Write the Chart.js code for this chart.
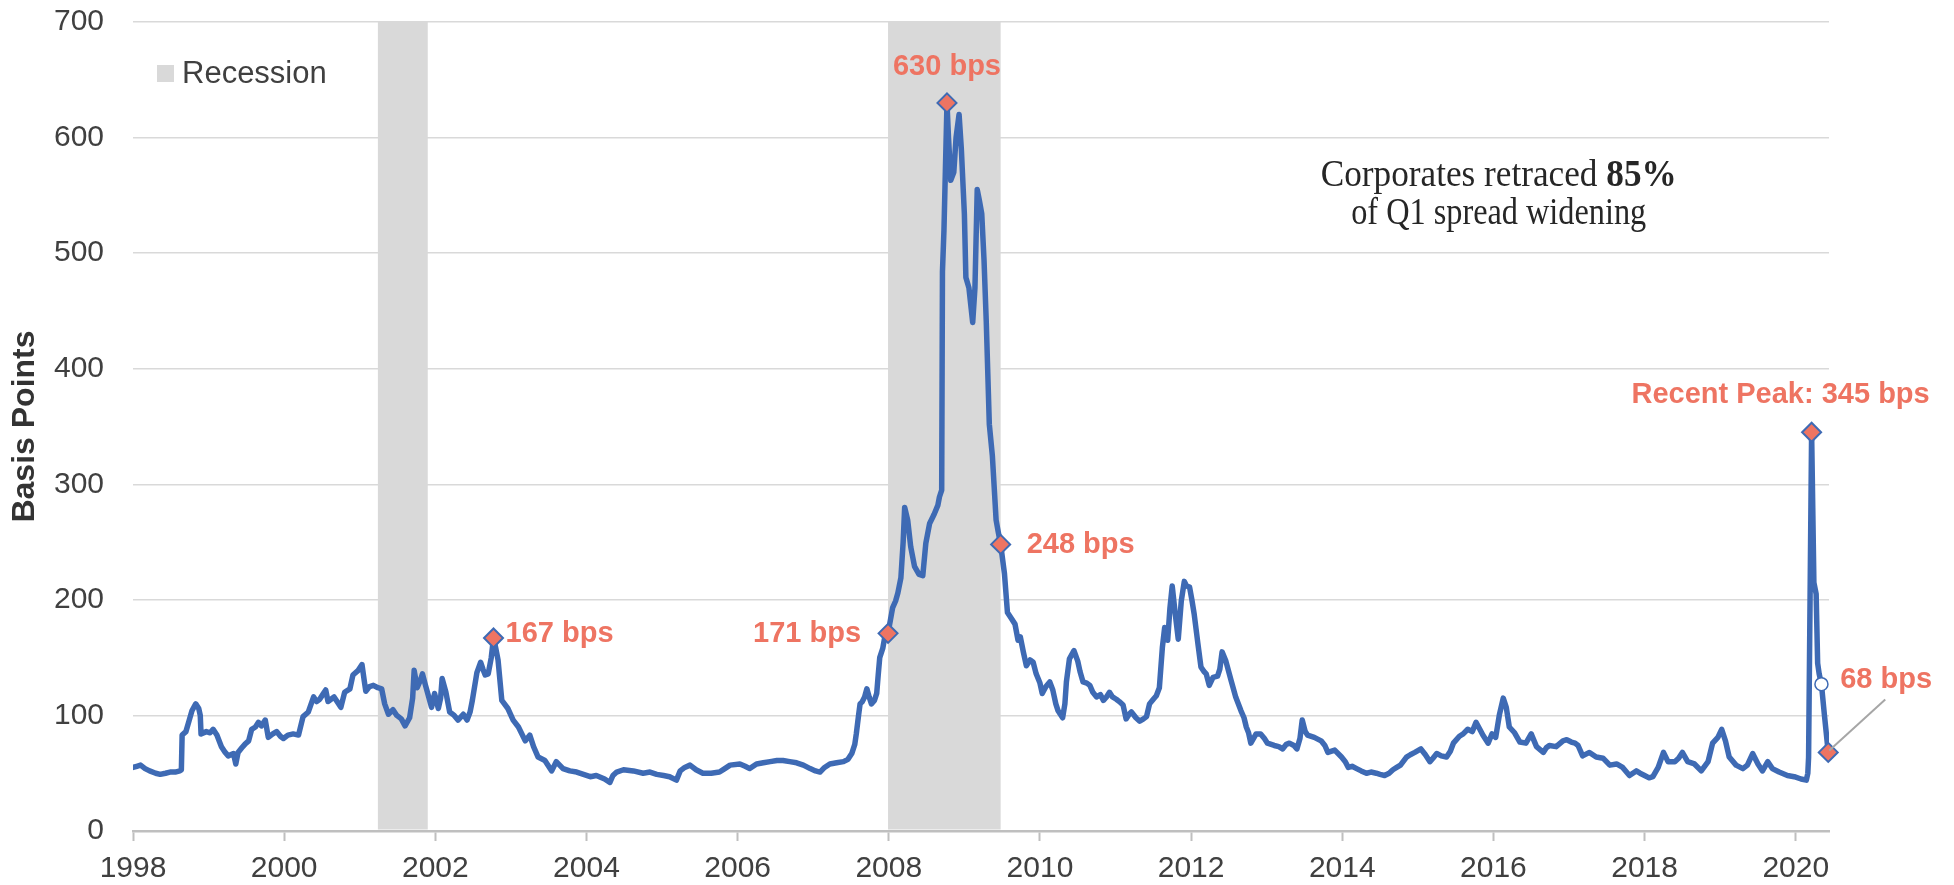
<!DOCTYPE html>
<html>
<head>
<meta charset="utf-8">
<title>Corporate spreads</title>
<script src="https://cdn.jsdelivr.net/npm/chart.js@4.4.1/dist/chart.umd.min.js"></script>
<style>
  html, body { margin: 0; padding: 0; background: #fff; }
  #chart { display: block; }
</style>
</head>
<body>
<canvas id="chart" width="1954" height="885"></canvas>
<script>
// spread readings (bps), dates as decimal years
const dates = [
  1998.00, 1998.05, 1998.10, 1998.16, 1998.22, 1998.30, 1998.36, 1998.43, 1998.49, 1998.56, 1998.62, 1998.64, 1998.65, 1998.70, 1998.74, 1998.78, 1998.83, 1998.87, 1998.89, 1998.90, 1998.97,
  1999.02, 1999.06, 1999.11, 1999.17, 1999.22, 1999.26, 1999.33, 1999.36, 1999.39, 1999.44, 1999.48, 1999.53, 1999.57, 1999.62, 1999.66, 1999.70, 1999.75, 1999.79, 1999.85, 1999.90, 1999.95, 1999.99,
  2000.05, 2000.12, 2000.19, 2000.25, 2000.32, 2000.39, 2000.43, 2000.47, 2000.51, 2000.55, 2000.58, 2000.62, 2000.66, 2000.70, 2000.75, 2000.80, 2000.87, 2000.91, 2000.98,
  2001.03, 2001.06, 2001.08, 2001.13, 2001.18, 2001.24, 2001.29, 2001.33, 2001.38, 2001.44, 2001.49, 2001.55, 2001.60, 2001.66, 2001.70, 2001.72, 2001.76, 2001.80, 2001.83, 2001.87, 2001.90, 2001.95, 2001.99,
  2002.04, 2002.07, 2002.09, 2002.14, 2002.19, 2002.25, 2002.30, 2002.37, 2002.42, 2002.46, 2002.49, 2002.55, 2002.60, 2002.63, 2002.66, 2002.70, 2002.74, 2002.77, 2002.80, 2002.83, 2002.88, 2002.96,
  2003.03, 2003.10, 2003.19, 2003.25, 2003.30, 2003.36, 2003.45, 2003.54, 2003.60, 2003.69, 2003.78, 2003.87, 2003.96,
  2004.05, 2004.13, 2004.24, 2004.31, 2004.35, 2004.40, 2004.49, 2004.62, 2004.75, 2004.84, 2004.93,
  2005.02, 2005.10, 2005.19, 2005.24, 2005.30, 2005.37, 2005.45, 2005.54, 2005.65, 2005.76, 2005.83, 2005.90,
  2006.03, 2006.10, 2006.16, 2006.25, 2006.34, 2006.43, 2006.52, 2006.60, 2006.69, 2006.78, 2006.87, 2006.96,
  2007.03, 2007.09, 2007.15, 2007.22, 2007.31, 2007.40, 2007.46, 2007.51, 2007.55, 2007.57, 2007.60, 2007.62, 2007.65, 2007.68, 2007.71, 2007.74, 2007.77, 2007.81, 2007.84, 2007.86, 2007.88, 2007.92, 2007.95, 2007.99,
  2008.05, 2008.09, 2008.12, 2008.16, 2008.19, 2008.21, 2008.25, 2008.29, 2008.34, 2008.40, 2008.45, 2008.49, 2008.54, 2008.60, 2008.65, 2008.67, 2008.70, 2008.71, 2008.73, 2008.77, 2008.79, 2008.82, 2008.86, 2008.89, 2008.93, 2008.96,
  2009.00, 2009.02, 2009.06, 2009.11, 2009.14, 2009.17, 2009.20, 2009.23, 2009.26, 2009.29, 2009.33, 2009.37, 2009.42, 2009.45, 2009.48, 2009.53, 2009.57, 2009.62, 2009.67, 2009.71, 2009.74, 2009.78, 2009.82, 2009.87, 2009.91, 2009.95,
  2010.00, 2010.03, 2010.08, 2010.13, 2010.17, 2010.21, 2010.24, 2010.30, 2010.33, 2010.35, 2010.39, 2010.45, 2010.50, 2010.53, 2010.57, 2010.62, 2010.66, 2010.70, 2010.75, 2010.80, 2010.84, 2010.88, 2010.92, 2010.96,
  2011.01, 2011.05, 2011.10, 2011.14, 2011.18, 2011.21, 2011.27, 2011.32, 2011.37, 2011.41, 2011.45, 2011.50, 2011.54, 2011.58, 2011.62, 2011.65, 2011.69, 2011.72, 2011.75, 2011.79, 2011.83, 2011.87, 2011.91, 2011.94, 2011.98,
  2012.01, 2012.04, 2012.09, 2012.13, 2012.17, 2012.20, 2012.24, 2012.29, 2012.35, 2012.38, 2012.41, 2012.46, 2012.53, 2012.59, 2012.66, 2012.70, 2012.73, 2012.76, 2012.79, 2012.86, 2012.92, 2012.97,
  2013.01, 2013.10, 2013.16, 2013.21, 2013.26, 2013.30, 2013.36, 2013.40, 2013.44, 2013.47, 2013.51, 2013.54, 2013.63, 2013.72, 2013.77, 2013.81, 2013.90, 2013.99,
  2014.04, 2014.08, 2014.13, 2014.19, 2014.25, 2014.32, 2014.38, 2014.45, 2014.50, 2014.56, 2014.62, 2014.67, 2014.72, 2014.77, 2014.85, 2014.90, 2014.96,
  2015.04, 2015.10, 2015.16, 2015.20, 2015.25, 2015.31, 2015.38, 2015.43, 2015.47, 2015.55, 2015.60, 2015.66, 2015.72, 2015.77, 2015.82, 2015.86, 2015.93, 2015.98,
  2016.03, 2016.08, 2016.13, 2016.17, 2016.21, 2016.28, 2016.35, 2016.43, 2016.50, 2016.57, 2016.66, 2016.70, 2016.74, 2016.83, 2016.92, 2016.97,
  2017.03, 2017.08, 2017.12, 2017.18, 2017.27, 2017.36, 2017.45, 2017.54, 2017.63, 2017.71, 2017.80, 2017.89, 2017.94,
  2018.00, 2018.06, 2018.11, 2018.18, 2018.25, 2018.31, 2018.40, 2018.45, 2018.50, 2018.57, 2018.66, 2018.75, 2018.84, 2018.90, 2018.97,
  2019.02, 2019.07, 2019.12, 2019.21, 2019.30, 2019.36, 2019.43, 2019.50, 2019.56, 2019.63, 2019.69, 2019.78, 2019.89, 2019.98,
  2020.07, 2020.14, 2020.16, 2020.17, 2020.21, 2020.24, 2020.27, 2020.29, 2020.31, 2020.34, 2020.38, 2020.43
];
const spreads = [
  55, 56, 57, 54, 52, 50, 49, 50, 51, 51, 52, 53, 83, 86, 95, 104, 110, 106, 100, 84, 86,
  85, 88, 83, 73, 68, 65, 67, 58, 68, 72, 75, 78, 88, 90, 94, 91, 96, 81, 84, 86, 82, 80,
  83, 84, 83, 99, 103, 116, 112, 114, 118, 122, 112, 114, 116, 112, 107, 120, 123, 135, 139,
  144, 130, 121, 125, 126, 124, 123, 110, 101, 105, 100, 97, 91, 98, 115, 139, 124, 130, 136, 126, 119, 107, 119,
  106, 115, 132, 120, 103, 100, 96, 101, 96, 103, 113, 137, 146, 140, 135, 136, 150, 167, 158, 148, 113, 106,
  96, 90, 78, 83, 73, 64, 61, 52, 60, 54, 52, 51, 49,
  47, 48, 45, 42, 48, 51, 53, 52, 50, 51, 49,
  48, 47, 44, 52, 55, 57, 53, 50, 50, 51, 54, 57,
  58, 56, 54, 58, 59, 60, 61, 61, 60, 59, 57, 54,
  52, 51, 55, 58, 59, 60, 62, 67, 75, 84, 100, 110, 112, 116, 123, 116, 110, 113, 119, 135, 150, 158, 169, 171,
  193, 199, 206, 219, 250, 280, 269, 246, 229, 222, 221, 249, 266, 274, 282, 289, 295, 484, 520, 630, 600, 563, 570, 600, 620, 590,
  534, 479, 470, 440, 470, 555, 545, 534, 494, 440, 352, 325, 269, 258, 248, 223, 189, 184, 179, 165, 168, 155, 143, 148, 146, 136,
  128, 119, 125, 129, 122, 110, 104, 98, 110, 129, 149, 156, 147, 138, 129, 128, 126, 120, 116, 118, 113, 116, 120, 116,
  114, 112, 109, 97, 101, 103, 98, 95, 97, 99, 110, 114, 117, 124, 159, 176, 165, 193, 212, 188, 166, 199, 216, 212, 211,
  200, 188, 162, 142, 138, 136, 126, 133, 134, 140, 155, 147, 130, 116, 104, 98, 90, 85, 76, 84, 84, 80,
  76, 74, 73, 71, 75, 76, 74, 71, 80, 96, 86, 83, 81, 78, 74, 68, 70, 64,
  60, 55, 56, 54, 52, 50, 51, 50, 49, 48, 50, 53, 55, 57, 64, 66, 68,
  71, 66, 60, 63, 67, 65, 64, 69, 76, 82, 84, 88, 86, 94, 88, 83, 76, 84,
  81, 101, 115, 107, 90, 85, 77, 76, 84, 73, 68, 72, 74, 73, 78, 79,
  77, 76, 74, 65, 68, 64, 63, 57, 58, 55, 48, 52, 50,
  48, 46, 47, 55, 68, 60, 60, 63, 68, 60, 58, 52, 60, 76, 81,
  88, 78, 64, 57, 54, 57, 67, 58, 52, 60, 54, 51, 48, 47,
  45, 44, 50, 64, 345, 215, 205, 145, 136, 127, 100, 68
];

const yearTicks = [1998, 2000, 2002, 2004, 2006, 2008, 2010, 2012, 2014, 2016, 2018, 2020];

const recessionStarts = [2001.24, 2007.99];
const recessionEnds = [2001.90, 2009.48];

const calloutDates = [2002.77, 2007.99, 2008.77, 2009.48, 2020.21, 2020.43];
const calloutValues = [167, 171, 630, 248, 345, 68];
const calloutLabels = ['167 bps', '171 bps', '630 bps', '248 bps', 'Recent Peak: 345 bps', '68 bps'];
// where each label sits relative to its marker (px)
const calloutPlacement = [
  { align: 'left', dx: 12, dy: -4 },
  { align: 'right', dx: -27, dy: 1 },
  { align: 'center', dx: 0, dy: -36 },
  { align: 'left', dx: 26, dy: 1 },
  { align: 'center', dx: -31, dy: -37 },
  { align: 'left', dx: 12, dy: -72 }
];

const openDates = [2020.34];
const openValues = [127];

const noteLines = [
  [['Corporates retraced ', false], ['85%', true]],
  [['of Q1 spread widening', false]]
];
const noteWidths = [356, 295];

const LINE_BLUE = '#3e6ab4';
const SALMON = '#ee7462';
const SANS = '"Liberation Sans", Arial, sans-serif';
const SERIF = '"Liberation Serif", "Times New Roman", serif';

Chart.defaults.font.family = SANS;
Chart.defaults.color = '#404040';

const overlay = {
  id: 'overlay',
  beforeDatasetsDraw(chart) {
    const { ctx, scales: { x, y } } = chart;
    ctx.save();
    ctx.fillStyle = '#d9d9d9';
    const top = y.getPixelForValue(y.max);
    const bottom = y.getPixelForValue(0) - 1.5;
    recessionStarts.forEach((start, i) => {
      const x0 = x.getPixelForValue(start);
      const x1 = x.getPixelForValue(recessionEnds[i]);
      ctx.fillRect(x0, top, x1 - x0, bottom - top);
    });

    // legend inside the plot
    ctx.fillRect(157, 65, 17, 17);
    ctx.fillStyle = '#404040';
    ctx.font = '31px ' + SANS;
    ctx.textBaseline = 'middle';
    ctx.textAlign = 'left';
    ctx.fillText('Recession', 182, 74);
    ctx.restore();
  },
  afterDatasetsDraw(chart) {
    const { ctx, scales: { x, y } } = chart;
    const points = chart.getDatasetMeta(0).data;
    ctx.save();

    // leader line for the last reading
    const last = points[points.length - 1];
    ctx.strokeStyle = '#a6a6a6';
    ctx.lineWidth = 2;
    ctx.beginPath();
    ctx.moveTo(last.x + 1, last.y - 2);
    ctx.lineTo(last.x + 57, last.y - 53);
    ctx.stroke();

    ctx.fillStyle = SALMON;
    ctx.font = 'bold 29px ' + SANS;
    ctx.textBaseline = 'middle';
    calloutLabels.forEach((label, i) => {
      const p = points[i];
      const place = calloutPlacement[i];
      ctx.textAlign = place.align;
      ctx.fillText(label, p.x + place.dx, p.y + place.dy);
    });

    // serif note
    const cx = x.getPixelForValue(2016.07);
    const cy = y.getPixelForValue(567);
    const fontFor = bold => (bold ? 'bold ' : '') + '38px ' + SERIF;
    const widthOf = line => line.reduce((w, [t, b]) => { ctx.font = fontFor(b); return w + ctx.measureText(t).width; }, 0);
    ctx.fillStyle = '#262626';
    ctx.textAlign = 'left';
    noteLines.forEach((line, row) => {
      const w = widthOf(line);
      ctx.save();
      ctx.translate(cx, cy + row * 38);
      ctx.scale(noteWidths[row] / w, 1);
      let px = -w / 2;
      line.forEach(([t, b]) => {
        ctx.font = fontFor(b);
        ctx.fillText(t, px, 0);
        px += ctx.measureText(t).width;
      });
      ctx.restore();
    });
    ctx.restore();
  }
};

new Chart(document.getElementById('chart'), {
  type: 'line',
  data: {
    datasets: [
      {
        label: 'Callouts',
        data: calloutDates.map((d, i) => ({ x: d, y: calloutValues[i] })),
        showLine: false,
        pointStyle: 'rectRot',
        pointRadius: 9.5,
        pointBackgroundColor: SALMON,
        pointBorderColor: LINE_BLUE,
        pointBorderWidth: 2,
        clip: false,
        order: 0
      },
      {
        label: 'Latest',
        data: openDates.map((d, i) => ({ x: d, y: openValues[i] })),
        showLine: false,
        pointStyle: 'circle',
        pointRadius: 6.5,
        pointBackgroundColor: '#ffffff',
        pointBorderColor: LINE_BLUE,
        pointBorderWidth: 1.5,
        order: 1
      },
      {
        label: 'Spread',
        data: dates.map((d, i) => ({ x: d, y: spreads[i] })),
        borderColor: LINE_BLUE,
        borderWidth: 5.5,
        borderJoinStyle: 'round',
        borderCapStyle: 'round',
        pointRadius: 0,
        tension: 0,
        fill: false,
        order: 2
      }
    ]
  },
  options: {
    responsive: false,
    devicePixelRatio: 1,
    animation: false,
    layout: { padding: { left: 0, right: 125, top: 22, bottom: 0 } },
    plugins: { legend: { display: false }, tooltip: { enabled: false } },
    scales: {
      x: {
        type: 'linear',
        min: 1998,
        max: 2020.44,
        afterBuildTicks: axis => { axis.ticks = yearTicks.map(v => ({ value: v })); },
        afterFit: axis => { axis.height = 54; },
        ticks: {
          autoSkip: false,
          maxRotation: 0,
          padding: 10,
          color: '#404040',
          font: { size: 30 },
          callback: v => String(v)
        },
        grid: {
          drawOnChartArea: false,
          drawTicks: true,
          tickLength: 10,
          tickWidth: 2,
          tickColor: '#bfbfbf'
        },
        border: { display: true, color: '#bfbfbf', width: 2.5 }
      },
      y: {
        min: 0,
        max: 700,
        afterFit: axis => {
          axis.width = 133;
          axis.paddingTop = 0;
          axis.paddingBottom = 0;
        },
        ticks: {
          stepSize: 100,
          padding: 29,
          color: '#404040',
          font: { size: 30 }
        },
        grid: { color: '#d9d9d9', lineWidth: 1.5, drawTicks: false },
        border: { display: false },
        title: {
          display: true,
          text: 'Basis Points',
          color: '#333333',
          font: { size: 32, weight: 'bold' },
          padding: { top: 6, bottom: 0 }
        }
      }
    }
  },
  plugins: [overlay]
});
</script>
</body>
</html>
